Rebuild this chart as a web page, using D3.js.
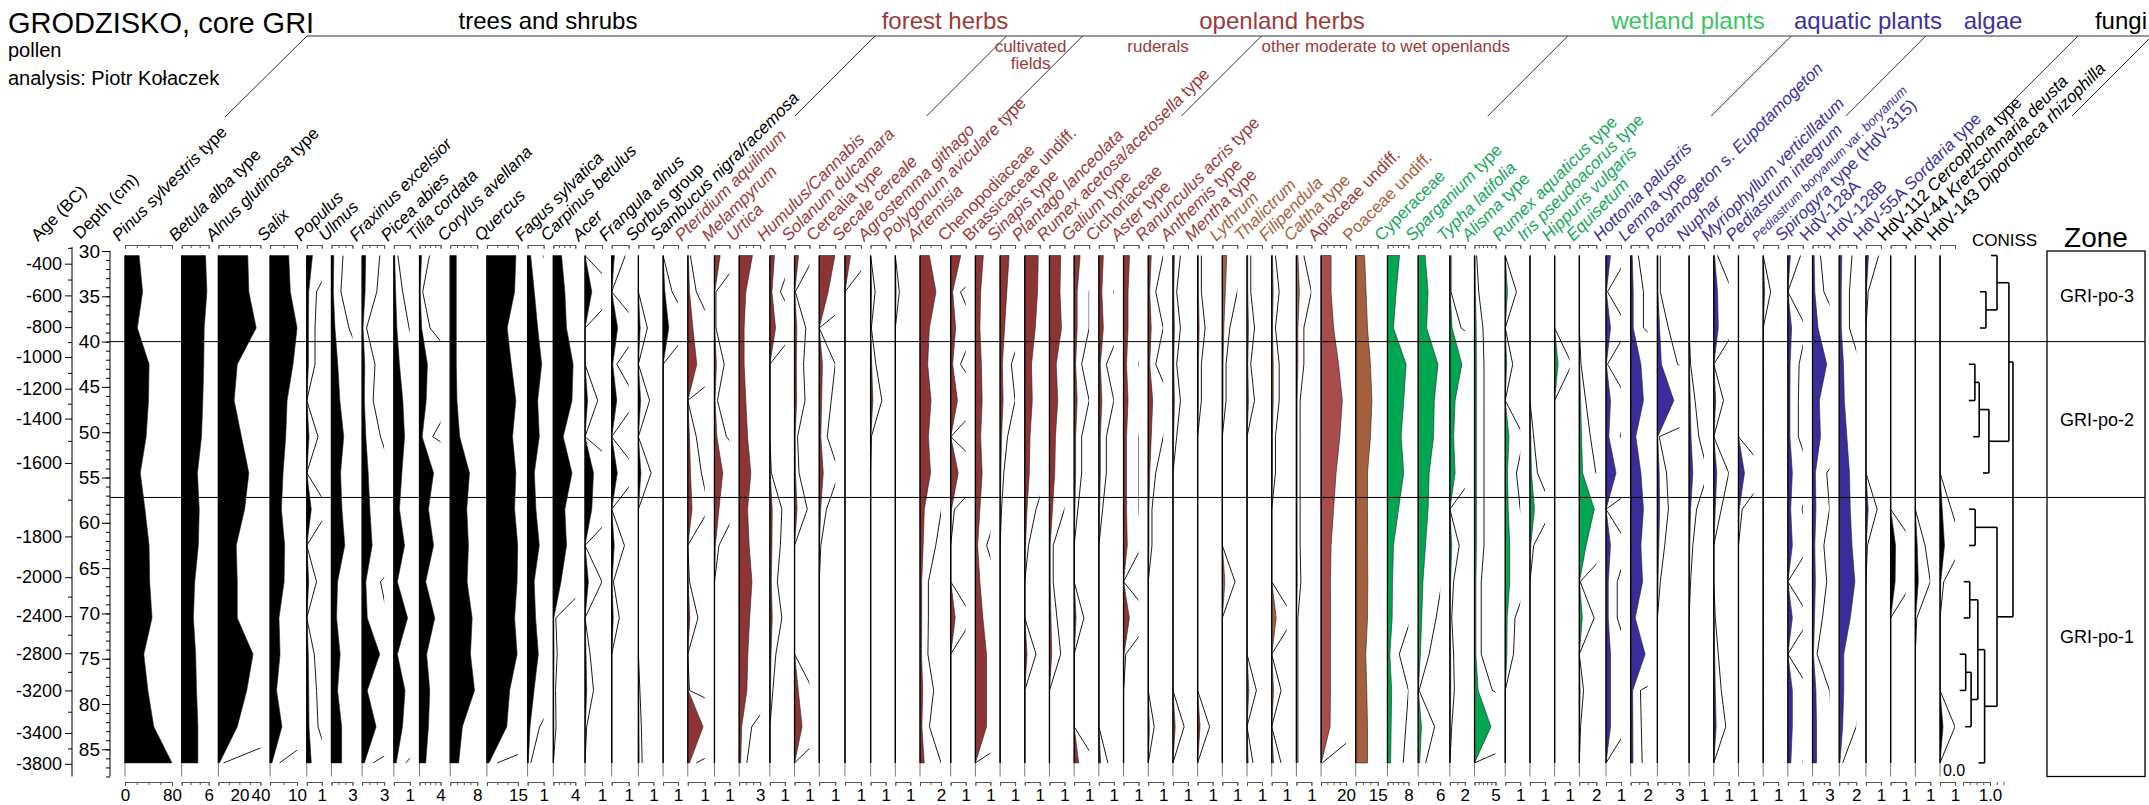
<!DOCTYPE html>
<html>
<head>
<meta charset="utf-8">
<title>GRODZISKO, core GRI</title>
<script src="https://cdn.jsdelivr.net/npm/d3@7/dist/d3.min.js"></script>
<style>
  html, body { margin: 0; padding: 0; background: #fff; }
  svg text { font-family: "Liberation Sans", Arial, Helvetica, sans-serif; }
</style>
</head>
<body>
<div id="chart"></div>
<script>
// ---------------- data ----------------
// sample depths (cm), one value per sample in every series below
var sampleDepths = [30.5, 34.5, 38.5, 42.5, 46.5, 50.5, 54.5, 58.5, 62.5, 66.5, 70.5, 74.5, 78.5, 82.5, 86.5];

// age-depth model used by the age axis
var ageTicks = [-400, -600, -800, -1000, -1200, -1400, -1600, -1800, -2000, -2400, -2800, -3200, -3400, -3800];
var ageTickDepths = [31.4, 34.9, 38.4, 41.7, 45.2, 48.5, 53.4, 61.5, 66.0, 70.3, 74.4, 78.5, 83.2, 86.6];
var ageMinorTicks = [-300, -500, -700, -900, -1100, -1300, -1500, -1700, -2200, -2600, -3000, -3300, -3600];

var zoneBounds = [40, 57.2];
var zoneNames = ["GRI-po-3", "GRI-po-2", "GRI-po-1"];

// *...* marks italic parts of a label
var treeNames = ["*Pinus sylvestris* type", "*Betula alba* type", "*Alnus glutinosa* type", "*Salix*", "*Populus*", "*Ulmus*",
  "*Fraxinus excelsior*", "*Picea abies*", "*Tilia cordata*", "*Corylus avellana*", "*Quercus*", "*Fagus sylvatica*",
  "*Carpinus betulus*", "*Acer*", "*Frangula alnus*", "*Sorbus* group", "*Sambucus nigra/racemosa*"];
var treeMax = [80, 6, 40, 10, 1, 3, 3, 1, 4, 8, 15, 1, 4, 1, 1, 1, 1];
var treeValues = [
  [24, 30, 21, 41, 40, 36, 26, 34, 41, 42, 46, 32, 39, 49, 80],
  [5.3, 5.6, 5.0, 4.9, 4.7, 4.4, 3.5, 3.9, 3.7, 2.9, 2.6, 3.1, 3.3, 3.6, 3.6],
  [28, 29, 36, 18, 15, 22, 29, 25, 17, 18, 18, 33, 27, 18, 1],
  [6.9, 7.5, 10, 8.5, 6.3, 5.8, 4.8, 4.2, 5.4, 5.2, 3.3, 3.7, 2.4, 4.4, 0.7],
  [0.38, 0.13, 0.11, 0.11, 0, 0.15, 0, 0.3, 0, 0.13, 0, 0.1, 0.13, 0.15, 0.3],
  [0.33, 0.27, 0.5, 0.9, 1.2, 1.75, 1.3, 1.5, 1.9, 0.87, 0.73, 1.24, 0.87, 1.46, 1.46],
  [0.48, 0.4, 0.12, 0.35, 0.3, 0.5, 0.82, 1.05, 1.36, 0.5, 0.7, 2.4, 0.7, 1.9, 0.3],
  [0.05, 0.11, 0.19, 0.35, 0.56, 0.67, 0.5, 0.35, 0.67, 0.22, 0.86, 0.22, 0.7, 0.54, 0.15],
  [0.38, 0.12, 0.4, 1.5, 1.27, 0.5, 2.67, 1.7, 2.67, 1.17, 2.9, 1.36, 1.94, 1.7, 1.17],
  [1.8, 1.8, 1.8, 1.8, 2.0, 2.8, 5.7, 4.9, 5.4, 5.0, 6.5, 6.0, 7.2, 3.6, 2.5],
  [14, 13.4, 9.8, 11.8, 14, 12.4, 14, 13.4, 14.9, 14.6, 13.4, 14.6, 11, 9.6, 1],
  [0.19, 0.42, 0.63, 0.88, 0.63, 0.73, 0.42, 0.52, 0.73, 0.41, 0.5, 0.67, 0.4, 0.15, 0.04],
  [1.5, 2.1, 2.4, 3.6, 3.4, 1.8, 3.4, 2.1, 2.4, 1.4, 0.09, 0.14, 0.08, 0.1, 0],
  [0, 0.4, 0, 0, 0.15, 0, 0.5, 0.4, 0, 0.2, 0, 0.06, 0.1, 0.02, 0],
  [0.16, 0, 0.35, 0.06, 0.3, 0, 0.33, 0, 0.15, 0.02, 0.09, 0, 0, 0, 0],
  [0, 0, 0.12, 0, 0.15, 0, 0.17, 0, 0, 0, 0, 0, 0.02, 0.04, 0.05],
  [0, 0.12, 0.38, 0, 0, 0, 0, 0, 0, 0, 0, 0, 0, 0, 0]
];

var forestNames = ["*Pteridium aquilinum*", "*Melampyrum*", "*Urtica*", "*Humulus/Cannabis*", "*Solanum dulcamara*"];
var forestMax = [1, 1, 3, 1, 1];
var forestValues = [
  [0.03, 0.1, 0.3, 0.53, 0, 0.1, 0.16, 0.25, 0, 0.02, 0.12, 0, 0.02, 0.9, 0.1],
  [0.38, 0.02, 0.02, 0.13, 0.04, 0.16, 0.55, 0.3, 0.06, 0, 0, 0, 0, 0, 0],
  [1.9, 0.95, 0.71, 0.71, 0.95, 1.2, 1.67, 1.2, 1.43, 1.83, 1.5, 1.24, 1.1, 0.36, 0.22],
  [0.31, 0.14, 0.38, 0, 0, 0, 0.02, 0.16, 0.14, 0.1, 0.16, 0.08, 0.04, 0, 0],
  [0.27, 0.01, 0.15, 0.12, 0.14, 0.04, 0.06, 0.17, 0, 0, 0, 0, 0.25, 0.5, 0]
];

var cultivatedNames = ["Cerealia type", "*Secale cereale*", "*Agrostemma githago*"];
var cultivatedMax = [1, 1, 1];
var cultivatedValues = [
  [0.98, 0.56, 0, 0.2, 0.15, 0.1, 0.25, 0.09, 0.02, 0, 0, 0, 0, 0, 0],
  [0.35, 0, 0, 0, 0, 0, 0, 0, 0, 0, 0, 0, 0, 0, 0],
  [0, 0.06, 0.01, 0.07, 0.15, 0.01, 0, 0, 0, 0, 0, 0, 0, 0, 0]
];

var ruderalNames = ["*Polygonum aviculare* type", "*Artemisia*", "Chenopodiaceae", "Brassicaceae undiff.", "*Sinapis* type",
  "*Plantago lanceolata*", "*Rumex acetosa/acetosella* type"];
var ruderalMax = [1, 2, 1, 1, 1, 1, 1];
var ruderalValues = [
  [0, 0.054, 0, 0, 0, 0, 0, 0, 0, 0, 0, 0, 0, 0, 0],
  [0.89, 1.52, 0.89, 0.73, 1.05, 0.8, 1.0, 0.41, 0.3, 0.16, 0.16, 0.15, 0.26, 0.18, 0.4],
  [0.67, 0.13, 0.33, 0.13, 0.45, 0, 0.5, 0.05, 0, 0, 0.3, 0, 0, 0, 0],
  [0.53, 0.35, 0.3, 0.4, 0.45, 0.35, 0.45, 0.3, 0.15, 0.3, 0.5, 0.74, 0.74, 0.74, 0],
  [0.6, 0.45, 0.3, 0.15, 0.2, 0.1, 0.05, 0.02, 0, 0, 0, 0, 0, 0, 0],
  [0.9, 0.85, 0.7, 0.45, 0.5, 0.35, 0.3, 0.15, 0.05, 0, 0, 0.15, 0, 0, 0],
  [0.75, 0.7, 0.8, 0.45, 0.55, 0.4, 0.35, 0.2, 0.05, 0.05, 0.1, 0.15, 0, 0, 0]
];

var openlandNames = ["*Galium* type", "Cichoriaceae", "*Aster* type", "*Ranunculus acris* type", "*Anthemis* type", "*Mentha* type",
  "*Lythrum*", "*Thalictrum*", "*Filipendula*", "*Caltha* type", "Apiaceae undiff.", "Poaceae undiff."];
var openlandMax = [1, 1, 1, 1, 1, 1, 1, 1, 1, 1, 20, 15];
var openlandValues = [
  [0.4, 0.2, 0.2, 0.1, 0.2, 0.1, 0.1, 0.05, 0, 0, 0.13, 0, 0, 0, 0.3],
  [0.3, 0.2, 0.3, 0.1, 0.2, 0.1, 0.1, 0.05, 0, 0, 0, 0, 0, 0, 0.12],
  [0.4, 0.3, 0.3, 0.2, 0.3, 0.2, 0.2, 0.2, 0.25, 0, 0.39, 0.03, 0, 0, 0],
  [0.2, 0.1, 0.2, 0.1, 0.3, 0.2, 0.1, 0.05, 0.05, 0, 0, 0, 0, 0.08, 0],
  [0.1, 0.05, 0.1, 0.05, 0.1, 0.05, 0, 0, 0, 0, 0, 0, 0, 0.15, 0],
  [0.05, 0.05, 0.1, 0.05, 0.05, 0, 0, 0, 0, 0, 0, 0, 0, 0.16, 0],
  [0.3, 0.2, 0.1, 0.05, 0.05, 0, 0, 0, 0, 0.17, 0, 0, 0, 0, 0],
  [0.05, 0.05, 0.1, 0.05, 0.1, 0, 0, 0, 0, 0, 0, 0, 0.125, 0, 0.08],
  [0.05, 0.1, 0.05, 0.1, 0.1, 0.05, 0.05, 0, 0, 0, 0.3, 0, 0.125, 0, 0.125],
  [0.1, 0.2, 0.1, 0.1, 0.05, 0.05, 0.05, 0.05, 0.05, 0.06, 0.02, 0.02, 0.02, 0.02, 0.02],
  [8, 8, 10, 14, 17, 15, 12, 10, 8, 7.5, 7.6, 7.5, 7.5, 7.2, 0.2],
  [6, 7, 8, 10, 11, 10, 8, 8, 8, 8.2, 8, 6.8, 7.5, 8, 8]
];

var wetlandNames = ["Cyperaceae", "*Sparganium* type", "*Typha latifolia*", "*Alisma* type", "*Rumex aquaticus* type",
  "*Iris pseudoacorus* type", "*Hippuris vulgaris*", "*Equisetum*"];
var wetlandMax = [8, 6, 2, 5, 1, 1, 1, 2];
var wetlandValues = [
  [4.6, 3.3, 2.3, 7.1, 6.2, 5.2, 6.2, 4.2, 2.3, 1.9, 1.8, 0.9, 1.6, 1.4, 1.2],
  [1.9, 2.7, 2.3, 5.4, 4.4, 4.2, 3.0, 2.7, 2.0, 1.3, 0.98, 0.6, 0.05, 0.9, 0.41],
  [0.03, 0.03, 0.3, 1.6, 0.7, 0.5, 0.7, 0, 0.25, 0.1, 0.05, 0.1, 0.12, 0.05, 0],
  [0.1, 0.2, 0.4, 0.45, 0.45, 0.45, 0.45, 0.45, 0.45, 0.32, 0.32, 0.32, 0.85, 3.9, 0],
  [0, 0.15, 0, 0.1, 0, 0.25, 0.15, 0.2, 0.3, 0.3, 0.13, 0.11, 0, 0, 0],
  [0, 0, 0, 0, 0, 0.05, 0.1, 0.3, 0.05, 0, 0, 0, 0, 0, 0],
  [0, 0, 0, 0.23, 0, 0, 0, 0, 0, 0, 0, 0, 0, 0, 0],
  [0, 0, 0, 0.04, 0.15, 0.26, 0.39, 1.76, 0.8, 0.02, 0.35, 0, 0.1, 0.03, 0]
];

var aquaticNames = ["*Hottonia palustris*", "*Lemna* type", "*Potamogeton* s. *Eupotamogeton*", "*Nuphar*", "*Myriophyllum verticillatum*"];
var aquaticMax = [1, 2, 3, 1, 1];
var aquaticValues = [
  [0.3, 0.02, 0.3, 0.02, 0.3, 0.19, 0.67, 0, 0.3, 0.15, 0.15, 0.3, 0.3, 0.3, 0],
  [0.18, 0.3, 0.3, 1.2, 1.5, 0.6, 1.2, 1.5, 1.2, 1.4, 0.53, 1.7, 0.23, 0.25, 0.27],
  [0.08, 0.08, 0.3, 0.55, 2.25, 0.05, 0.25, 0.3, 0.2, 0.08, 0, 0, 0, 0, 0],
  [0, 0, 0, 0.02, 0.08, 0.13, 0.25, 0.1, 0.05, 0.02, 0, 0, 0, 0, 0],
  [0.05, 0.25, 0.3, 0, 0.13, 0, 0.2, 0.1, 0, 0, 0.02, 0.06, 0.1, 0.16, 0]
];

var algaeNames = ["*Pediastrum integrum*", "*Pediastrum boryanum* var. *boryanum*", "*Spirogyra* type (HdV-315)",
  "HdV-128A", "HdV-128B", "HdV-55A *Sordaria* type"];
var algaeMax = [1, 1, 1, 3, 2, 1];
var algaeValues = [
  [0, 0, 0, 0, 0, 0, 0.4, 0.05, 0, 0, 0, 0, 0, 0, 0],
  [0, 0.1, 0, 0, 0, 0, 0, 0, 0, 0, 0, 0, 0, 0, 0],
  [0.17, 0, 0.25, 0.15, 0.14, 0.14, 0.3, 0.19, 0.3, 0, 0.3, 0, 0.3, 0.3, 0.2],
  [0.28, 0.4, 0.97, 2.5, 1.2, 1.4, 0.5, 0.6, 0.4, 0.5, 0.35, 0.16, 0.6, 0.7, 0.7],
  [0.3, 0.24, 0.24, 0.5, 0.6, 0.9, 1.2, 1.3, 1.5, 1.84, 1.3, 0.53, 0.53, 0.4, 0.08],
  [0.17, 0.03, 0, 0, 0, 0, 0, 0.15, 0.02, 0, 0, 0, 0, 0, 0]
];

var fungiNames = ["HdV-112 *Cercophora* type", "HdV-44 *Kretzschmaria deusta*", "HdV-143 *Diporotheca rhizophilla*"];
var fungiMax = [1, 1, 1];
var fungiValues = [
  [0, 0, 0, 0, 0, 0, 0, 0, 0.33, 0.3, 0, 0, 0, 0, 0],
  [0, 0, 0, 0, 0, 0, 0, 0, 0.13, 0.2, 0.02, 0, 0, 0, 0],
  [0, 0, 0, 0, 0, 0, 0, 0.15, 0.3, 0.05, 0, 0, 0, 0.2, 0]
];

// tick labels written under the bottom scale bars (default: the maximum)
var extraScaleLabels = {"*Pinus sylvestris* type": [0, 80], "*Alnus glutinosa* type": [20, 40]};

// CONISS: [child, child, total sum of squares]; numbers are samples, "cN" earlier links
var conissLinks = [
  [9, 10, 0.25], [11, 12, 0.1], ["c1", 13, 0.3], ["c0", "c2", 0.55], [7, 8, 0.45], ["c3", 14, 0.8],
  ["c4", "c5", 1.26], [1, 2, 0.85], [0, "c7", 1.26], [3, 4, 0.44], ["c9", 5, 0.6], ["c10", 6, 0.96],
  ["c8", "c11", 1.7], ["c12", "c6", 1.85]
];

var groupTitles = ["trees and shrubs", "forest herbs", "openland herbs", "wetland plants", "aquatic plants", "algae", "fungi"];
var subGroupTitles = [["cultivated", "fields"], ["ruderals"], ["other moderate to wet openlands"]];

// ---------------- layout ----------------
var W = 2149, H = 805;
var firstColX = 125, lastColX = 1940;
var plotTop = 251, plotBottom = 776.5;
var exaggeration = 5;
var colWidths = [47, 27, 42, 27, 15, 21, 22, 16, 21, 27, 31, 16, 22, 17, 17, 15, 15,
  17, 15, 21, 15, 15,
  16, 16, 15,
  15, 21, 15, 15, 15, 15, 15,
  15, 15, 15, 15, 15, 15, 15, 15, 15, 15, 25, 22,
  21, 22, 15, 21, 15, 15, 15, 17,
  15, 17, 22, 15, 15,
  15, 15, 15, 17, 17, 15,
  15, 15, 15];
var tickStep = {1: 1, 2: 1, 3: 1, 4: 1, 5: 1, 6: 2, 8: 2, 10: 5, 15: 5, 20: 5, 40: 10, 80: 20};
var headerX = [548, 945, 1282, 1688, 1868, 1993, 2147];
var headerY = 29, headerLineY = 36, dividerBottomY = 116;
var labelFont = 17;

var RED = "#9c3a3a", RED_FILL = "#8e3434", BROWN = "#a8603a", BROWN_FILL = "#a4603e";
var GREEN = "#16a85a", GREEN_FILL = "#00a651", BLUE = "#3b32a3", BLUE_FILL = "#3a2d9b";
var brownTaxa = ["*Lythrum*", "*Thalictrum*", "*Filipendula*", "*Caltha* type", "Poaceae undiff."];

var groupDefs = [
  {key: "trees", names: treeNames, max: treeMax, values: treeValues, text: "#000", fill: "#000"},
  {key: "forest", names: forestNames, max: forestMax, values: forestValues, text: RED, fill: RED_FILL},
  {key: "cultivated", names: cultivatedNames, max: cultivatedMax, values: cultivatedValues, text: RED, fill: RED_FILL},
  {key: "ruderal", names: ruderalNames, max: ruderalMax, values: ruderalValues, text: RED, fill: RED_FILL},
  {key: "openland", names: openlandNames, max: openlandMax, values: openlandValues, text: RED, fill: RED_FILL},
  {key: "wetland", names: wetlandNames, max: wetlandMax, values: wetlandValues, text: GREEN, fill: GREEN_FILL},
  {key: "aquatic", names: aquaticNames, max: aquaticMax, values: aquaticValues, text: BLUE, fill: BLUE_FILL},
  {key: "algae", names: algaeNames, max: algaeMax, values: algaeValues, text: BLUE, fill: BLUE_FILL},
  {key: "fungi", names: fungiNames, max: fungiMax, values: fungiValues, text: "#000", fill: "#000"}
];

// flatten the groups into columns
var columns = [];
groupDefs.forEach(function (g) {
  g.names.forEach(function (name, i) {
    var brown = brownTaxa.indexOf(name) >= 0;
    columns.push({
      name: name, group: g.key, max: g.max[i], values: g.values[i],
      text: brown ? BROWN : g.text,
      fill: brown ? BROWN_FILL : (name === "Apiaceae undiff." ? "#a84c4c" : g.fill)
    });
  });
});
var gap = (lastColX - firstColX - d3.sum(colWidths.slice(0, -1))) / (columns.length - 1);
var cx = firstColX;
columns.forEach(function (c, i) {
  c.w = colWidths[i];
  c.x0 = cx;
  cx += c.w + gap;
});

var svg = d3.select("#chart").append("svg")
  .attr("width", W).attr("height", H)
  .attr("viewBox", "0 0 " + W + " " + H);
var defs = svg.append("defs");

var y = d3.scaleLinear().domain([30, 88]).range([plotTop, plotBottom]);
var ageY = d3.scaleLinear().domain(ageTicks).range(ageTickDepths.map(function (d) { return y(d); }));

/**
 * Writes a label whose *starred* parts are italic
 */
function richText(sel, label) {
  label.split("*").forEach(function (part, i) {
    if (part === "") return;
    sel.append("tspan").attr("font-style", i % 2 ? "italic" : "normal").text(part);
  });
}

function line(g, x1, y1, x2, y2, color, width) {
  return g.append("line").attr("x1", x1).attr("y1", y1).attr("x2", x2).attr("y2", y2)
    .attr("stroke", color || "#000").attr("stroke-width", width || 1);
}

// ---- title block ----
svg.append("text").attr("x", 8).attr("y", 33).attr("font-size", 29).text("GRODZISKO, core GRI");
svg.append("text").attr("x", 8).attr("y", 57).attr("font-size", 20).text("pollen");
svg.append("text").attr("x", 8).attr("y", 85).attr("font-size", 20).text("analysis: Piotr Kołaczek");

// ---- age axis ----
var ageAxisX = 72;
var ageG = svg.append("g").attr("transform", "translate(" + ageAxisX + ",0)");
ageG.call(d3.axisLeft(ageY).tickValues(ageTicks).tickSize(7).tickPadding(3).tickFormat(function (d) { return String(d); }))
  .call(function (g) { g.select(".domain").remove(); })
  .call(function (g) { g.selectAll("text").attr("font-size", 18).attr("font-family", "Liberation Sans, Arial, sans-serif"); });
ageG.append("g").call(d3.axisLeft(ageY).tickValues(ageMinorTicks).tickSize(4).tickFormat(""))
  .call(function (g) { g.select(".domain").remove(); });
line(svg, ageAxisX, plotTop - 4, ageAxisX, plotBottom, "#000", 1);

// ---- depth axis ----
var depthAxisX = 110;
var depthG = svg.append("g").attr("transform", "translate(" + depthAxisX + ",0)");
depthG.call(d3.axisLeft(y).tickValues(d3.range(30, 86, 5)).tickSize(8).tickPadding(2))
  .call(function (g) { g.select(".domain").remove(); })
  .call(function (g) { g.selectAll("text").attr("font-size", 19).attr("font-family", "Liberation Sans, Arial, sans-serif"); });
depthG.append("g").call(d3.axisLeft(y).tickValues(d3.range(30, 89, 1)).tickSize(4).tickFormat(""))
  .call(function (g) { g.select(".domain").remove(); });
line(svg, depthAxisX, plotTop, depthAxisX, plotBottom, "#000", 1);

[["Age (BC)", 38, 242], ["Depth (cm)", 80, 240]].forEach(function (d) {
  svg.append("text").attr("transform", "translate(" + d[1] + "," + d[2] + ") rotate(-45)")
    .attr("font-size", labelFont).text(d[0]);
});

// ---- columns ----
var plot = svg.append("g");
columns.forEach(function (c, i) {
  var xs = d3.scaleLinear().domain([0, c.max]).range([c.x0, c.x0 + c.w]);
  var g = plot.append("g");
  var clipId = "clip" + i;
  defs.append("clipPath").attr("id", clipId).append("rect")
    .attr("x", c.x0).attr("y", 240).attr("width", c.w).attr("height", 560);

  // filled curve
  var area = d3.area()
    .x0(c.x0)
    .x1(function (d) { return xs(d); })
    .y(function (d, j) { return y(sampleDepths[j]); });
  g.append("path").attr("d", area(c.values))
    .attr("fill", c.fill).attr("stroke", "#222").attr("stroke-width", 0.6);

  // exaggerated outline, cut at the column width
  var exag = d3.line()
    .x(function (d) { return xs(d * exaggeration); })
    .y(function (d, j) { return y(sampleDepths[j]); });
  g.append("path").attr("d", exag(c.values)).attr("clip-path", "url(#" + clipId + ")")
    .attr("fill", "none").attr("stroke", "#000").attr("stroke-width", 0.9);

  // baseline
  line(g, c.x0, y(sampleDepths[0]), c.x0, y(sampleDepths[sampleDepths.length - 1]), "#000", 1.3);
  line(g, c.x0, y(sampleDepths[sampleDepths.length - 1]), c.x0, plotBottom, "#777", 1);

  // scale bars
  var ticks = d3.range(0, c.max + 1e-9, tickStep[c.max] || c.max);
  var labels = extraScaleLabels[c.name] || [c.max];
  g.append("g").attr("transform", "translate(0,245)")
    .call(d3.axisBottom(xs).tickValues(ticks).tickSize(3).tickSizeOuter(4).tickFormat(""))
    .call(function (s) { s.selectAll("path,line").attr("stroke", "#555"); });
  g.append("g").attr("transform", "translate(0,782)")
    .call(d3.axisBottom(xs).tickValues(ticks).tickSize(3).tickSizeOuter(4).tickPadding(4)
      .tickFormat(function (d) { return labels.indexOf(d) >= 0 ? String(d) : ""; }))
    .call(function (s) {
      s.selectAll("path,line").attr("stroke", "#555");
      s.selectAll("text").attr("font-size", 17).attr("font-family", "Liberation Sans, Arial, sans-serif");
    });

  // taxon label
  var t = svg.append("text")
    .attr("transform", "translate(" + (c.x0 - 6) + ",242) rotate(-45)")
    .attr("font-size", c.name.indexOf("var.") >= 0 ? 13 : labelFont)
    .attr("fill", c.text);
  richText(t, c.name);
});

// ---- group headers ----
var header = svg.append("g");
line(header, 307, headerLineY, W, headerLineY, "#333", 1.2);
line(header, 225, dividerBottomY + 1, 307, headerLineY, "#333", 1);
var headerColors = ["#000", RED, RED, "#3cc463", BLUE, BLUE, "#000"];
groupTitles.forEach(function (t, i) {
  header.append("text").attr("x", headerX[i]).attr("y", headerY)
    .attr("text-anchor", i === groupTitles.length - 1 ? "end" : "middle")
    .attr("font-size", 24).attr("fill", headerColors[i]).text(t);
});
var dividerXs = [];
groupDefs.forEach(function (g) {
  var last = columns.filter(function (c) { return c.group === g.key; }).pop();
  var xb = last.x0 + 132;
  dividerXs.push(xb);
  line(header, xb, dividerBottomY, xb + (dividerBottomY - headerLineY), headerLineY, "#333", 1);
});
// sub-groups of the herbs
var at50 = function (k) { return dividerXs[k] + (dividerBottomY - 50); };
header.append("text").attr("x", (at50(1) + at50(2)) / 2).attr("y", 52).attr("text-anchor", "middle")
  .attr("font-size", 17).attr("fill", RED).text(subGroupTitles[0][0]);
header.append("text").attr("x", (at50(1) + at50(2)) / 2).attr("y", 69).attr("text-anchor", "middle")
  .attr("font-size", 17).attr("fill", RED).text(subGroupTitles[0][1]);
header.append("text").attr("x", (at50(2) + at50(3)) / 2).attr("y", 52).attr("text-anchor", "middle")
  .attr("font-size", 17).attr("fill", RED).text(subGroupTitles[1][0]);
header.append("text").attr("x", at50(3) + 14).attr("y", 52)
  .attr("font-size", 17).attr("fill", RED).text(subGroupTitles[2][0]);

// ---- zones ----
var zoneLeft = 2047, zoneRight = 2145;
zoneBounds.forEach(function (b) { line(svg, depthAxisX, y(b), zoneRight, y(b), "#000", 1); });
svg.append("rect").attr("x", zoneLeft).attr("y", plotTop).attr("width", zoneRight - zoneLeft)
  .attr("height", plotBottom - plotTop).attr("fill", "none").attr("stroke", "#000").attr("stroke-width", 1.3);
svg.append("text").attr("x", (zoneLeft + zoneRight) / 2).attr("y", 247).attr("text-anchor", "middle")
  .attr("font-size", 28).text("Zone");
var zoneEdges = [30].concat(zoneBounds, [88]);
zoneNames.forEach(function (z, i) {
  svg.append("text").attr("x", (zoneLeft + zoneRight) / 2 + 1)
    .attr("y", y((zoneEdges[i] + zoneEdges[i + 1]) / 2) + 6)
    .attr("text-anchor", "middle").attr("font-size", 18).text(z);
});

// ---- CONISS ----
var conX = d3.scaleLinear().domain([0, 1]).range([1963, 1990]);
var con = svg.append("g");
var nodes = {};
function nodePos(ref) {
  if (typeof ref === "number") return {y: y(sampleDepths[ref]), leaf: true};
  return nodes[ref];
}
conissLinks.forEach(function (m, k) {
  var a = nodePos(m[0]), b = nodePos(m[1]);
  var hx = conX(m[2]);
  line(con, hx, a.y, hx, b.y, "#000", 1.6);
  [a, b].forEach(function (p) {
    line(con, p.leaf ? hx - 6 : p.x, p.y, hx, p.y, "#000", 1.6);
  });
  nodes["c" + k] = {x: hx, y: (a.y + b.y) / 2};
});
con.append("g").attr("transform", "translate(0,782)")
  .call(d3.axisBottom(conX).tickValues([0, 0.25, 0.5, 0.75, 1, 1.25, 1.5]).tickSize(3).tickSizeOuter(4).tickPadding(4)
    .tickFormat(function (d) { return d === 1 ? "1.0" : ""; }))
  .call(function (s) {
    s.selectAll("path,line").attr("stroke", "#555");
    s.selectAll("text").attr("font-size", 17).attr("font-family", "Liberation Sans, Arial, sans-serif");
  });
svg.append("text").attr("x", 1954).attr("y", 776).attr("text-anchor", "middle").attr("font-size", 16).text("0.0");
svg.append("text").attr("x", 1972).attr("y", 246).attr("font-size", 17).text("CONISS");
</script>
</body>
</html>
